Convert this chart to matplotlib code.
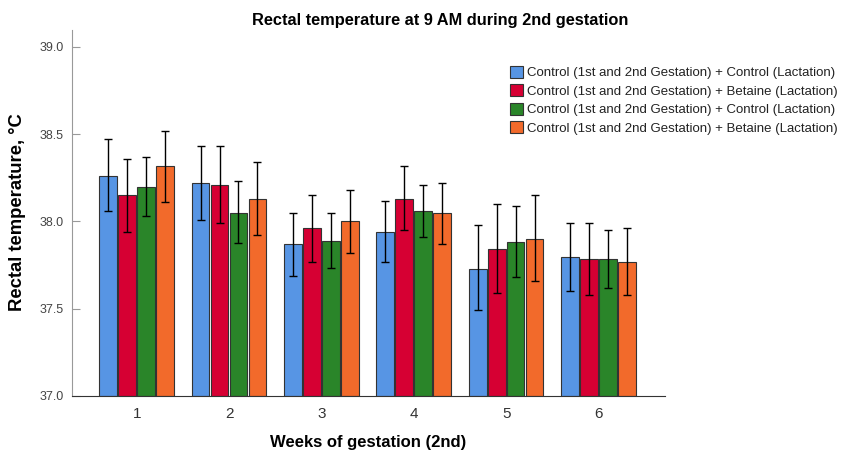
import matplotlib.pyplot as plt
import numpy as np

plt.rcParams['font.family'] = ['Liberation Sans', 'DejaVu Sans']

weeks = ["1", "2", "3", "4", "5", "6"]
groups = [
    "Control (1st and 2nd Gestation) + Control (Lactation)",
    "Control (1st and 2nd Gestation) + Betaine (Lactation)",
    "Control (1st and 2nd Gestation) + Control (Lactation)",
    "Control (1st and 2nd Gestation) + Betaine (Lactation)",
]
colors = ["#5795e4", "#d60033", "#2a8529", "#f26a2b"]

# mean values per group, one entry per week
means = [
    [38.26, 38.22, 37.87, 37.94, 37.73, 37.795],
    [38.15, 38.21, 37.96, 38.13, 37.84, 37.785],
    [38.20, 38.05, 37.89, 38.06, 37.885, 37.785],
    [38.32, 38.13, 38.00, 38.05, 37.90, 37.77],
]
# error bar ends
upper = [
    [38.47, 38.43, 38.05, 38.12, 37.98, 37.99],
    [38.36, 38.43, 38.15, 38.32, 38.10, 37.99],
    [38.37, 38.23, 38.05, 38.21, 38.09, 37.95],
    [38.52, 38.34, 38.18, 38.22, 38.15, 37.96],
]
lower = [
    [38.06, 38.01, 37.69, 37.77, 37.49, 37.60],
    [37.94, 37.99, 37.77, 37.95, 37.59, 37.58],
    [38.03, 37.875, 37.735, 37.91, 37.68, 37.62],
    [38.11, 37.92, 37.82, 37.87, 37.66, 37.58],
]

fig = plt.figure(figsize=(8.53, 4.59), dpi=100)
ax = fig.add_axes([0.0844, 0.1373, 0.6952, 0.7984])

x = np.arange(1, len(weeks) + 1)
step = 0.205
for i, (name, col) in enumerate(zip(groups, colors)):
    pos = x + (i - 1.5) * step
    m = np.array(means[i])
    err = [m - np.array(lower[i]), np.array(upper[i]) - m]
    ax.bar(pos, m - 37.0, 0.192, bottom=37.0, color=col, edgecolor="#333333",
           linewidth=0.8, label=name)
    ax.errorbar(pos, m, yerr=err, fmt="none", ecolor="black", elinewidth=1,
                capsize=3, capthick=1)

ax.set_xlim(0.3, 6.72)
ax.set_ylim(37.0, 39.1)
ax.set_yticks([37.0, 37.5, 38.0, 38.5, 39.0])
ax.set_yticklabels(["37.0", "37.5", "38.0", "38.5", "39.0"])
ax.set_xticks(x)
ax.set_xticklabels(weeks)
ax.tick_params(axis="y", direction="in", length=6, color="#999999",
               labelsize=9, labelcolor="#444444", pad=6)
ax.tick_params(axis="x", length=0, labelsize=11, labelcolor="#333333", pad=8)
for s in ["top", "right"]:
    ax.spines[s].set_visible(False)
ax.spines["left"].set_color("#999999")
ax.spines["bottom"].set_color("#333333")

fig.text(0.516, 0.956, "Rectal temperature at 9 AM during 2nd gestation",
         ha="center", va="center", fontsize=11.8, fontweight="bold")
fig.text(0.432, 0.037, "Weeks of gestation (2nd)", ha="center", va="center",
         fontsize=12, fontweight="bold")
fig.text(0.021, 0.538, "Rectal temperature, °C", ha="center", va="center",
         rotation=90, fontsize=13.3, fontweight="bold")

fig.legend(loc="upper left", bbox_to_anchor=(0.5915, 0.868), frameon=False,
           fontsize=9.5, handlelength=1.0, handleheight=1.0, handletextpad=0.3,
           labelspacing=0.38, borderaxespad=0, labelcolor="#222222")

fig.savefig("out.png", dpi=100)
